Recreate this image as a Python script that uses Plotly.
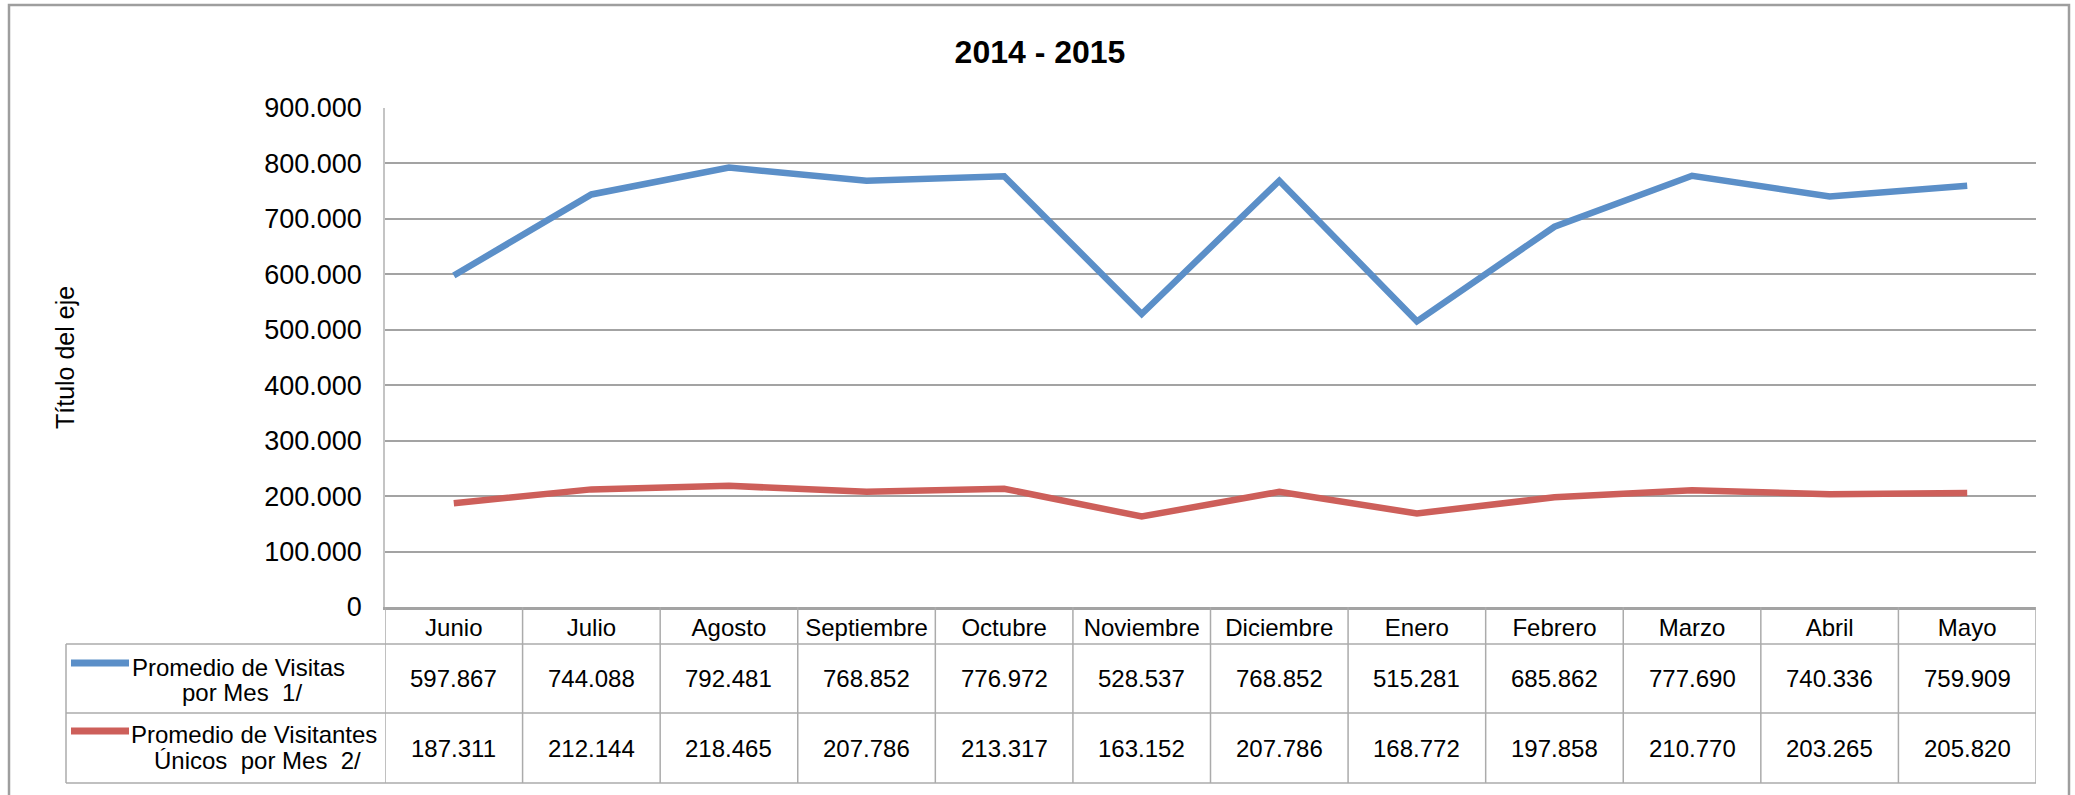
import plotly.graph_objects as go

# ---------------- data ----------------
months = ["Junio", "Julio", "Agosto", "Septiembre", "Octubre", "Noviembre",
          "Diciembre", "Enero", "Febrero", "Marzo", "Abril", "Mayo"]
visitas = [597867, 744088, 792481, 768852, 776972, 528537,
           768852, 515281, 685862, 777690, 740336, 759909]
visitantes = [187311, 212144, 218465, 207786, 213317, 163152,
              207786, 168772, 197858, 210770, 203265, 205820]
series_names = ["Promedio de Visitas por Mes  1/",
                "Promedio de Visitantes Únicos  por Mes  2/"]
legend_lines = [["Promedio de Visitas", "por Mes  1/"],
                ["Promedio de Visitantes", "Únicos  por Mes  2/"]]
title_text = "2014 - 2015"
y_title = "Título del eje"
y_ticks = [0, 100000, 200000, 300000, 400000, 500000, 600000, 700000, 800000, 900000]

# ---------------- style ----------------
W, H = 2075, 795
L, R, T, B = 385, 39, 108, 188
PW, PH = W - L - R, H - T - B
FONT = "Liberation Sans, Arial, sans-serif"
colors = ["#5B8FC8", "#CD5F5A"]
grid_c = "#A3A3A3"
tab_c = "#ABABAB"


def px_x(X):
    return (X - L) / PW


def px_y(Y):
    return (H - B - Y) / PH


def fmt(v):
    return f"{v:,}".replace(",", ".")


fig = go.Figure()
for name, vals, c in zip(series_names, [visitas, visitantes], colors):
    fig.add_trace(go.Scatter(x=months, y=vals, mode="lines", name=name,
                             line=dict(color=c, width=6.5), showlegend=False))

shapes = []
annotations = []

# outer frame
shapes.append(dict(type="rect", xref="paper", yref="paper",
                   x0=px_x(9), x1=px_x(2069), y0=px_y(5), y1=px_y(830),
                   line=dict(color="#9E9E9E", width=2.5), layer="below"))

# table: row positions in pixels
row_tops = [607, 644, 713, 783]
for Y in row_tops[1:]:
    shapes.append(dict(type="line", xref="paper", yref="paper",
                       x0=px_x(66), x1=1, y0=px_y(Y), y1=px_y(Y),
                       line=dict(color=tab_c, width=1.5)))
for i in range(len(months) + 1):
    shapes.append(dict(type="line", xref="x", yref="paper",
                       x0=i - 0.5, x1=i - 0.5, y0=0, y1=px_y(783),
                       line=dict(color=tab_c, width=1.5)))
shapes.append(dict(type="line", xref="paper", yref="paper",
                   x0=px_x(66), x1=px_x(66), y0=px_y(644), y1=px_y(783),
                   line=dict(color=tab_c, width=1.5)))

# table values
row_centers = [678.5, 748]
for vals, yc in zip([visitas, visitantes], row_centers):
    for i, v in enumerate(vals):
        annotations.append(dict(x=i, y=px_y(yc), xref="x", yref="paper",
                                text=fmt(v), showarrow=False,
                                font=dict(family=FONT, size=24, color="#000000"),
                                xanchor="center", yanchor="middle"))

# legend keys + labels
key_y = [663, 731]
line1_y = [667, 734]
line2_y = [692, 760]
line1_x = [238, 254]
line2_x = [242, 257]
for k in range(2):
    shapes.append(dict(type="line", xref="paper", yref="paper",
                       x0=px_x(71), x1=px_x(129), y0=px_y(key_y[k]), y1=px_y(key_y[k]),
                       line=dict(color=colors[k], width=7)))
    for txt, xx, yy in [(legend_lines[k][0], line1_x[k], line1_y[k]),
                        (legend_lines[k][1], line2_x[k], line2_y[k])]:
        annotations.append(dict(x=px_x(xx), y=px_y(yy), xref="paper", yref="paper",
                                text=txt, showarrow=False,
                                font=dict(family=FONT, size=24, color="#000000"),
                                xanchor="center", yanchor="middle"))

# y axis title
annotations.append(dict(x=px_x(65), y=px_y(358), xref="paper", yref="paper",
                        text=y_title, textangle=-90, showarrow=False,
                        font=dict(family=FONT, size=25, color="#000000"),
                        xanchor="center", yanchor="middle"))

fig.update_layout(
    width=W, height=H, autosize=False,
    margin=dict(l=L, r=R, t=T, b=B, pad=0),
    paper_bgcolor="white", plot_bgcolor="white",
    separators=",.",
    title=dict(text="<b>" + title_text + "</b>", x=1040 / W, xanchor="center",
               y=1 - 52 / H, yanchor="middle", xref="container", yref="container",
               font=dict(family=FONT, size=32, color="#000000")),
    shapes=shapes, annotations=annotations,
    xaxis=dict(type="category", range=[-0.5, len(months) - 0.5],
               showgrid=False, zeroline=False, showline=True,
               linecolor=grid_c, linewidth=2.5, ticks="", tickangle=0,
               tickfont=dict(family=FONT, size=24, color="#000000"),
               ticklabelstandoff=-3),
    yaxis=dict(range=[0, 900000], tickvals=y_ticks, tickformat=",d",
               showgrid=True, gridcolor=grid_c, gridwidth=2,
               zeroline=False, showline=True, linecolor="#C4C4C4", linewidth=1.5,
               ticks="", tickfont=dict(family=FONT, size=27, color="#000000"),
               ticklabelstandoff=16),
)

fig.write_html("out.html", config={"displayModeBar": False},
               post_script="document.body.style.margin='0';")
